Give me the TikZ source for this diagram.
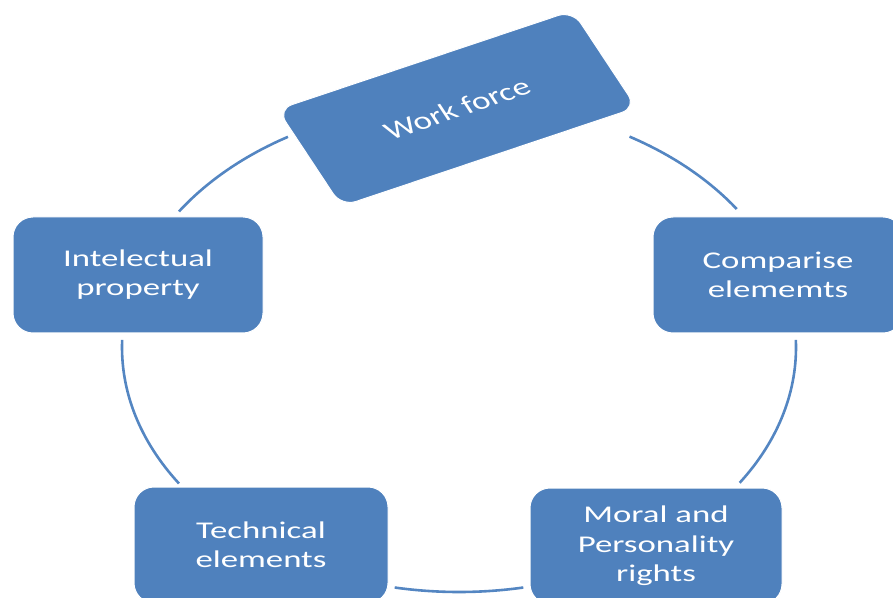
\documentclass[tikz,border=0pt]{standalone}
\usepackage{fontspec}
\usetikzlibrary{calc}
\newfontfamily\boxfont[FakeStretch=1.45]{Carlito}
\newfontfamily\plainboxfont{Carlito}
\definecolor{boxblue}{RGB}{79,129,189}
\definecolor{ringblue}{RGB}{84,134,194}
\begin{document}
\begin{tikzpicture}[x=1pt,y=1pt,
  stage/.style={fill=boxblue, draw=white, line width=1pt, rounded corners=20pt,
    text=white, font={\boxfont\fontsize{24}{28.8}\selectfont}, align=center,
    inner sep=0pt, minimum height=116pt},
  ring/.style={draw=ringblue, line width=2.6pt}]
\useasboundingbox (0,0) rectangle (893,597);
\clip (0,0) rectangle (893,597);
% ring arcs
\coordinate (C) at (459,249.5);
\coordinate (a1) at ($(C)+(120.5:337pt and 244.5pt)$);
\coordinate (a2) at ($(C)+(178.2:337pt and 244.5pt)$);
\coordinate (a3) at ($(C)+(259:337pt and 244.5pt)$);
\coordinate (a4) at ($(C)+(326.4:337pt and 244.5pt)$);
\coordinate (a5) at ($(C)+(34.5:337pt and 244.5pt)$);
\draw[ring] (a1) arc[start angle=120.5, end angle=146.2, x radius=337pt, y radius=244.5pt];
\draw[ring] (a2) arc[start angle=178.2, end angle=213.8, x radius=337pt, y radius=244.5pt];
\draw[ring] (a3) arc[start angle=259, end angle=281, x radius=337pt, y radius=244.5pt];
\draw[ring] (a4) arc[start angle=326.4, end angle=361.8, x radius=337pt, y radius=244.5pt];
\draw[ring] (a5) arc[start angle=34.5, end angle=59.6, x radius=337pt, y radius=244.5pt];
% boxes
\node[stage, xscale=1.405, rotate=25.2, minimum width=232pt, minimum height=107pt,
  rounded corners=15pt, font={\plainboxfont\fontsize{25}{30}\selectfont}] (wf) at (457,488.5) {Work force};
\node[stage, minimum width=250pt] (ip) at (138,322) {Intelectual\\property};
\node[stage, minimum width=250pt] (ce) at (778,322) {Comparise\\elememts};
\node[stage, minimum width=254pt] (te) at (261,52) {Technical\\elements};
\node[stage, minimum width=252pt, font={\boxfont\fontsize{24}{29.5}\selectfont}] (mp) at (656,51) {Moral and\\Personality\\rights};
\end{tikzpicture}
\end{document}
